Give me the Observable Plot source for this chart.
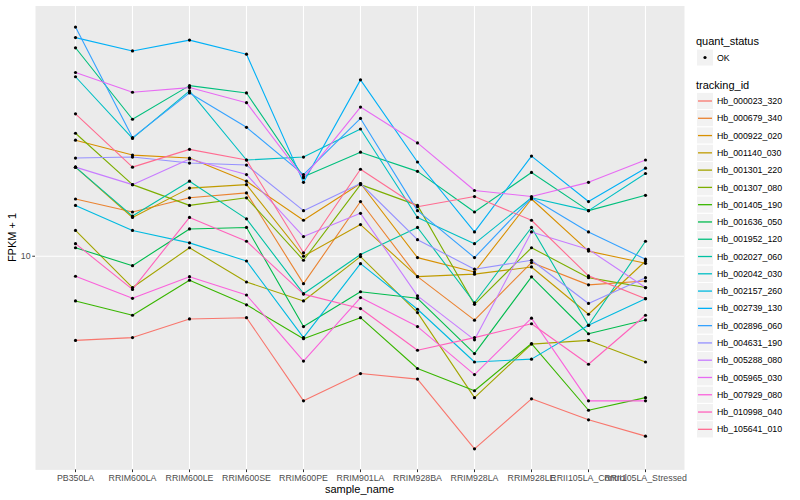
<!DOCTYPE html>
<html><head><meta charset="utf-8">
<script src="https://cdn.jsdelivr.net/npm/d3@7"></script>
<script src="https://cdn.jsdelivr.net/npm/@observablehq/plot@0.6"></script>
<style>
html,body{margin:0;padding:0;background:#fff;}
#wrap{position:relative;width:800px;height:500px;font-family:"Liberation Sans",Arial,sans-serif;overflow:hidden;}
#chart{position:absolute;left:0;top:0;}
#legend{position:absolute;left:690px;top:0;}
.title{position:absolute;font-size:11px;line-height:11px;color:#000;white-space:nowrap;}
</style></head>
<body><div id="wrap"><div id="chart"></div><svg id="legend" width="110" height="500"></svg>
<div class="title" style="left:35px;width:649px;text-align:center;top:483.5px;">sample_name</div>
<div class="title" style="left:-28px;width:80px;text-align:center;top:232px;transform:rotate(-90deg);">FPKM + 1</div>
</div>
<script>
const samples = ["PB350LA","RRIM600LA","RRIM600LE","RRIM600SE","RRIM600PE","RRIM901LA","RRIM928BA","RRIM928LA","RRIM928LE","RRII105LA_Control","RRII105LA_Stressed"];
const trackingIds = ["Hb_000023_320","Hb_000679_340","Hb_000922_020","Hb_001140_030","Hb_001301_220","Hb_001307_080","Hb_001405_190","Hb_001636_050","Hb_001952_120","Hb_002027_060","Hb_002042_030","Hb_002157_260","Hb_002739_130","Hb_002896_060","Hb_004631_190","Hb_005288_080","Hb_005965_030","Hb_007929_080","Hb_010998_040","Hb_105641_010"];
const idColors = ["#F8766D","#EA8331","#D89000","#C09B00","#A3A500","#7CAE00","#39B600","#00BB4E","#00BF7D","#00C1A3","#00BFC4","#00BAE0","#00B0F6","#35A2FF","#9590FF","#C77CFF","#E76BF3","#FA62DB","#FF62BC","#FF6C91"];
const quantStatus = ["OK"];
const yTicks = [10];

// FPKM + 1 per sample (same order as samples)
const Hb_000023_320 = [6.16, 6.26, 6.97, 7.02, 4.35, 5.09, 4.93, 3.30, 4.40, 3.90, 3.55];
const Hb_000679_340 = [13.9, 12.9, 14.0, 14.4, 8.54, 13.7, 8.89, 6.92, 9.64, 8.48, 8.67];
const Hb_000922_020 = [19.5, 17.9, 17.6, 15.4, 12.3, 15.2, 9.92, 9.13, 13.9, 10.3, 9.60];
const Hb_001140_030 = [16.7, 12.5, 14.8, 15.1, 10.0, 12.0, 8.89, 9.02, 9.40, 7.16, 9.73];
const Hb_001301_220 = [11.6, 8.35, 10.5, 8.62, 7.73, 9.98, 7.23, 4.43, 6.03, 6.16, 5.44];
const Hb_001307_080 = [20.3, 15.1, 13.4, 14.0, 9.77, 15.1, 13.4, 7.58, 10.5, 8.84, 8.35];
const Hb_001405_190 = [7.73, 7.12, 8.71, 7.56, 6.22, 7.02, 5.24, 4.61, 6.05, 4.12, 4.43];
const Hb_001636_050 = [10.5, 9.47, 11.7, 11.8, 6.67, 8.15, 7.85, 5.71, 8.88, 6.40, 6.93];
const Hb_001952_120 = [33.2, 22.0, 26.7, 25.6, 15.8, 18.2, 16.3, 12.9, 16.2, 13.0, 14.2];
const Hb_002027_060 = [16.7, 12.6, 15.4, 12.4, 8.06, 10.1, 11.8, 7.65, 11.8, 6.72, 10.9];
const Hb_002042_030 = [28.1, 19.7, 25.9, 17.4, 17.7, 20.8, 12.5, 10.75, 14.0, 13.0, 16.1];
const Hb_002157_260 = [13.4, 11.6, 10.8, 9.73, 6.26, 9.58, 7.37, 5.44, 5.53, 6.72, 7.83];
const Hb_002739_130 = [35.2, 32.6, 34.7, 32.0, 15.3, 27.6, 17.2, 11.5, 17.8, 13.7, 16.6];
const Hb_002896_060 = [37.4, 19.8, 25.6, 21.0, 16.0, 22.1, 13.0, 9.92, 14.0, 11.5, 9.83];
const Hb_004631_190 = [17.6, 17.7, 17.1, 16.9, 13.0, 15.2, 11.0, 9.28, 9.77, 7.62, 8.84];
const Hb_005288_080 = [16.7, 15.1, 17.5, 16.0, 11.2, 12.8, 7.96, 6.18, 11.5, 10.4, 8.35];
const Hb_005965_030 = [28.8, 25.7, 26.4, 24.2, 15.7, 23.6, 19.2, 14.6, 14.1, 15.3, 17.4];
const Hb_007929_080 = [8.91, 7.85, 8.89, 8.00, 5.47, 7.88, 6.67, 5.06, 7.00, 4.35, 4.35];
const Hb_010998_040 = [10.75, 8.26, 12.5, 10.9, 8.04, 7.40, 5.82, 6.26, 6.78, 5.37, 7.12];
const Hb_105641_010 = [22.7, 16.7, 18.5, 17.4, 10.2, 16.5, 13.3, 14.1, 12.3, 8.93, 7.83];

const series = [Hb_000023_320, Hb_000679_340, Hb_000922_020, Hb_001140_030, Hb_001301_220, Hb_001307_080, Hb_001405_190, Hb_001636_050, Hb_001952_120, Hb_002027_060, Hb_002042_030, Hb_002157_260, Hb_002739_130, Hb_002896_060, Hb_004631_190, Hb_005288_080, Hb_005965_030, Hb_007929_080, Hb_010998_040, Hb_105641_010];

const rows = trackingIds.flatMap((id, i) => samples.map((s, j) => ({id, sample: s, value: series[i][j], status: quantStatus[0]})));
const logs = rows.map(d => Math.log10(d.value));
const [l0, l1] = d3.extent(logs);
const pad = (l1 - l0) * 0.05;

const chart = Plot.plot({
  width: 690, height: 500,
  marginLeft: 35, marginRight: 6, marginTop: 5.5, marginBottom: 30.6,
  style: {fontFamily: '"Liberation Sans", Arial, sans-serif', fontSize: "8.8px", background: "transparent", overflow: "visible"},
  x: {type: "point", domain: samples, padding: 0.6},
  y: {type: "log", domain: [10 ** (l0 - pad), 10 ** (l1 + pad)]},
  color: {domain: trackingIds, range: idColors},
  marks: [
    Plot.frame({fill: "#EBEBEB", stroke: "none"}),
    Plot.ruleX(samples, {stroke: "white", strokeWidth: 1.1}),
    Plot.ruleY(yTicks, {stroke: "white", strokeWidth: 1.1}),
    Plot.line(rows, {x: "sample", y: "value", z: "id", stroke: "id", strokeWidth: 1.1}),
    Plot.dot(rows, {x: "sample", y: "value", r: 1.6, fill: "black", stroke: "none"}),
    Plot.axisX({tickSize: 2.75, tickPadding: 2.2, stroke: "#333333", fill: "#4D4D4D", label: null}),
    Plot.axisY(yTicks, {tickSize: 2.75, tickPadding: 2.2, tickFormat: d => String(d), stroke: "#333333", fill: "#4D4D4D", label: null})
  ]
});
document.getElementById("chart").appendChild(chart);

// legend
const lg = d3.select("#legend");
const ff = '"Liberation Sans", Arial, sans-serif';
lg.append("text").attr("x", 6).attr("y", 44.5).attr("font-family", ff).attr("font-size", 11).text("quant_status");
lg.append("rect").attr("x", 6.5).attr("y", 49).attr("width", 17).attr("height", 17).attr("fill", "#F2F2F2").attr("stroke", "white");
lg.append("circle").attr("cx", 15).attr("cy", 57.5).attr("r", 1.6).attr("fill", "black");
lg.append("text").attr("x", 27).attr("y", 60.6).attr("font-family", ff).attr("font-size", 8.8).text(quantStatus[0]);
lg.append("text").attr("x", 6).attr("y", 88.8).attr("font-family", ff).attr("font-size", 11).text("tracking_id");
const step = 17.28;
trackingIds.forEach((id, i) => {
  const cy = 101 + i * step;
  lg.append("rect").attr("x", 6.5).attr("y", cy - step / 2).attr("width", 17).attr("height", step).attr("fill", "#F2F2F2").attr("stroke", "white");
  lg.append("line").attr("x1", 8).attr("x2", 22).attr("y1", cy).attr("y2", cy).attr("stroke", idColors[i]).attr("stroke-width", 1.3);
  lg.append("text").attr("x", 27).attr("y", cy + 3.1).attr("font-family", ff).attr("font-size", 8.8).attr("fill", "#000").text(id);
});
</script>
</body></html>
